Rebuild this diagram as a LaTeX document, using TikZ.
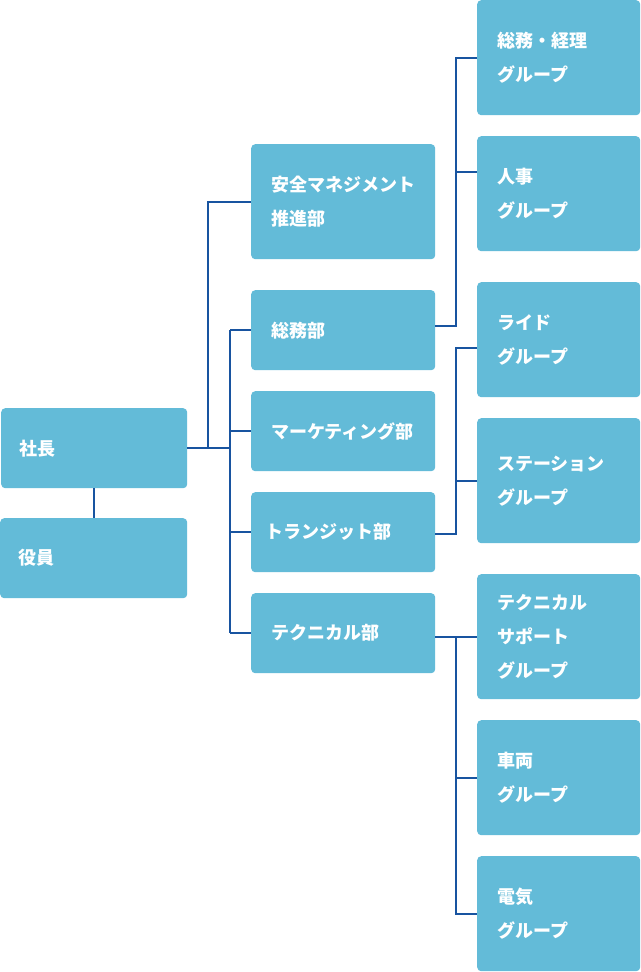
\documentclass[tikz,border=0pt]{standalone}
\usepackage{fontspec}
\setmainfont{Noto Sans CJK JP}

\definecolor{boxblue}{RGB}{99,187,216}
\definecolor{linkblue}{RGB}{24,84,160}

\begin{document}
\begin{tikzpicture}[x=1pt,y=-1pt,
  unit/.style={fill=boxblue, rounded corners=4pt, anchor=north west, text=white,
    font=\bfseries\fontsize{18}{34}\selectfont, align=left, inner ysep=0pt, inner xsep=20pt},
  top/.style={unit, minimum width=186pt, minimum height=80pt, text width=150pt, inner xsep=18pt},
  dept/.style={unit, minimum width=184pt, minimum height=80pt, text width=144pt},
  grp/.style={unit, minimum width=163pt, minimum height=115pt, text width=123pt},
  link/.style={draw=linkblue, line width=2pt}]

\useasboundingbox (0,0) rectangle (640,972);

%Vertice
\node[top] (pres) at (1,408) {社長};
\node[top, minimum width=187pt] (board) at (0,518) {役員};

%Dipartimenti
\node[dept, minimum height=115pt] (safety) at (251,144) {安全マネジメント\\推進部};
\node[dept] (general) at (251,290) {総務部};
\node[dept] (marketing) at (251,391) {マーケティング部};
\node[dept] (transit) at (251,492) {\hspace*{-6pt}トランジット部};
\node[dept] (technical) at (251,593) {テクニカル部};

%Gruppi
\node[grp] (accounts) at (477,0) {総務・経理\\グループ};
\node[grp] (hr) at (477,136) {人事\\グループ};
\node[grp] (ride) at (477,282) {ライド\\グループ};
\node[grp, minimum height=125pt] (station) at (477,418) {ステーション\\グループ};
\node[grp, minimum height=125pt] (support) at (477,574) {テクニカル\\サポート\\グループ};
\node[grp] (vehicle) at (477,720) {車両\\グループ};
\node[grp] (electric) at (477,856) {電気\\グループ};

\coordinate (busA) at (208,0);
\coordinate (busB) at (230,0);
\coordinate (busC) at (456,0);

%社長
\draw[link] (pres.south) -- (pres.south |- board.north);
\draw[link] (pres.east) -- (pres.east -| busB);
\draw[link] (pres.east -| busA) |- (safety.west);
\draw[link] (general.west -| busB) -- (technical.west -| busB);
\foreach \d in {general,marketing,transit,technical}
  \draw[link] (\d.west -| busB) -- (\d.west);

%総務部
\coordinate (gOut) at ([yshift=4pt]general.east);
\coordinate (hrIn) at ([yshift=21.5pt]hr.west);
\draw[link] (gOut) -- (gOut -| busC) |- (accounts.west);
\draw[link] (hrIn -| busC) -- (hrIn);

%トランジット部
\coordinate (tOut) at ([yshift=-2pt]transit.east);
\coordinate (rideIn) at ([yshift=-8.5pt]ride.west);
\draw[link] (tOut) -- (tOut -| busC) |- (rideIn);
\draw[link] (station.west -| busC) -- (station.west);

%テクニカル部
\draw[link] (technical.east |- support.west) -- (support.west);
\draw[link] (support.west -| busC) |- (electric.west);
\draw[link] (vehicle.west -| busC) -- (vehicle.west);

\end{tikzpicture}
\end{document}
